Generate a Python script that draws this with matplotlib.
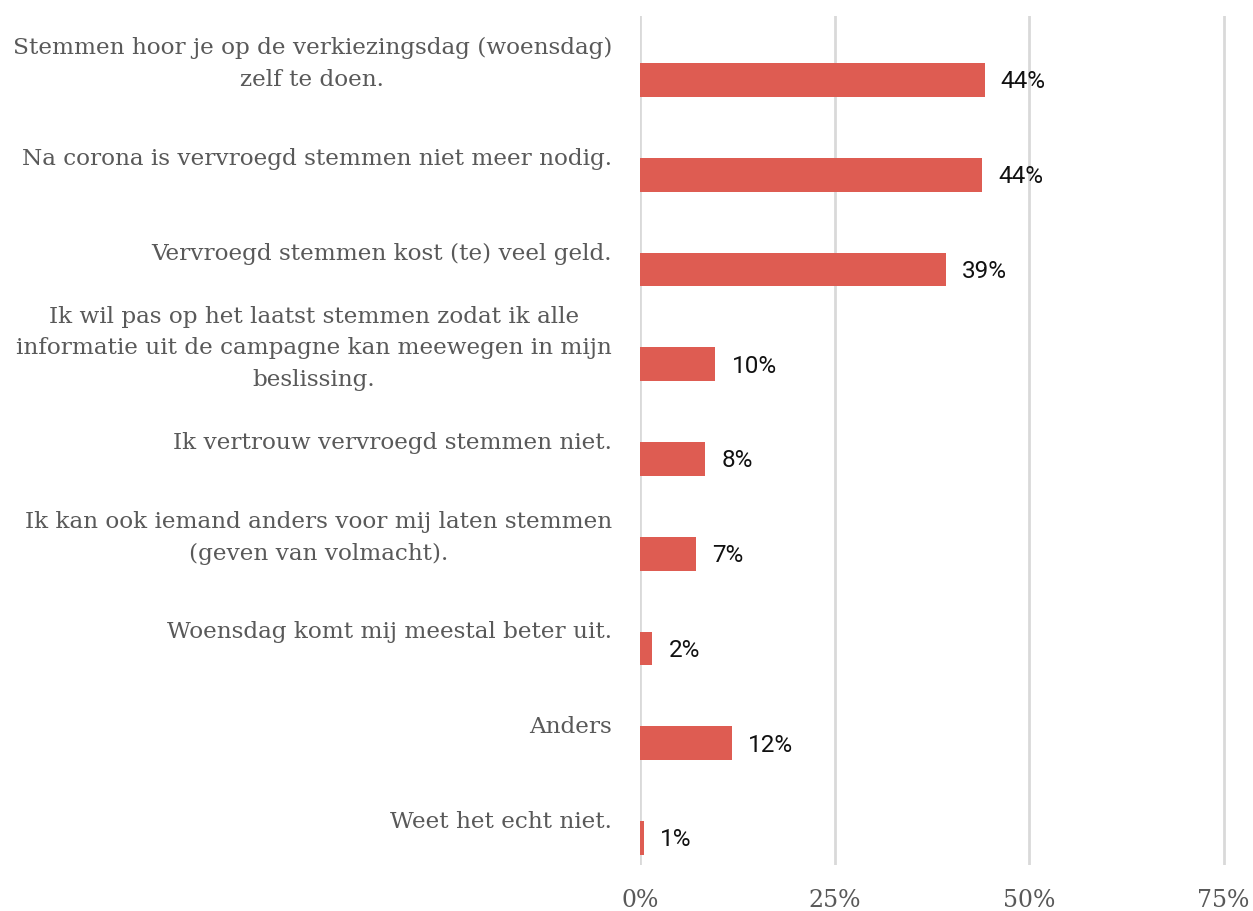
import matplotlib
matplotlib.use("Agg")
import matplotlib.pyplot as plt
from matplotlib.transforms import ScaledTranslation, blended_transform_factory

categories = [
    "Stemmen hoor je op de verkiezingsdag (woensdag)\nzelf te doen.",
    "Na corona is vervroegd stemmen niet meer nodig.",
    "Vervroegd stemmen kost (te) veel geld.",
    "Ik wil pas op het laatst stemmen zodat ik alle\ninformatie uit de campagne kan meewegen in mijn\nbeslissing.",
    "Ik vertrouw vervroegd stemmen niet.",
    "Ik kan ook iemand anders voor mij laten stemmen\n(geven van volmacht).",
    "Woensdag komt mij meestal beter uit.",
    "Anders",
    "Weet het echt niet.",
]
values = [44.3, 44.0, 39.3, 9.7, 8.4, 7.2, 1.6, 11.8, 0.55]
value_labels = ["44%", "44%", "39%", "10%", "8%", "7%", "2%", "12%", "1%"]
xticks = [0, 25, 50, 75]
xtick_labels = ["0%", "25%", "50%", "75%"]

W, H = 1253, 911
fig = plt.figure(figsize=(W / 100, H / 100), dpi=100)
px_per_unit = (1223.5 - 640) / 75.0
xmax = 75.5
left, right = 640 / W, (640 + px_per_unit * xmax) / W
top, bottom = 1 - 16 / H, 1 - 865 / H
ax = fig.add_axes([left, bottom, right - left, top - bottom])

n = len(categories)
ypos = list(range(n))
ax.barh(ypos, values, height=0.356, color="#DE5C52", zorder=3)

ax.set_xlim(0, xmax)
ax.set_ylim(n - 1 + 0.285, -0.675)
ax.set_xticks(xticks)
ax.set_xticklabels(xtick_labels, fontfamily="DejaVu Serif", fontsize=17, color="#595959")
ax.tick_params(axis="x", length=0, pad=17)
ax.set_yticks([])
ax.grid(axis="x", color="#D9D9D9", linewidth=2, zorder=0)
for s in ax.spines.values():
    s.set_visible(False)

trans = blended_transform_factory(ax.transAxes, ax.transData)
off_lbl = ScaledTranslation(-28 / 100, 16 / 100, fig.dpi_scale_trans)
for y, cat in zip(ypos, categories):
    ax.text(0, y, cat, transform=trans + off_lbl, ha="right", va="center",
            multialignment="center", fontfamily="DejaVu Serif", fontsize=16.7,
            color="#595959", linespacing=1.56)

off_val = ScaledTranslation(16 / 100, -2 / 100, fig.dpi_scale_trans)
for y, v, lab in zip(ypos, values, value_labels):
    ax.text(v, y, lab, transform=ax.transData + off_val, ha="left", va="center",
            fontfamily="Roboto", fontsize=17.5, color="#111111")

fig.savefig("out.png", dpi=100)
